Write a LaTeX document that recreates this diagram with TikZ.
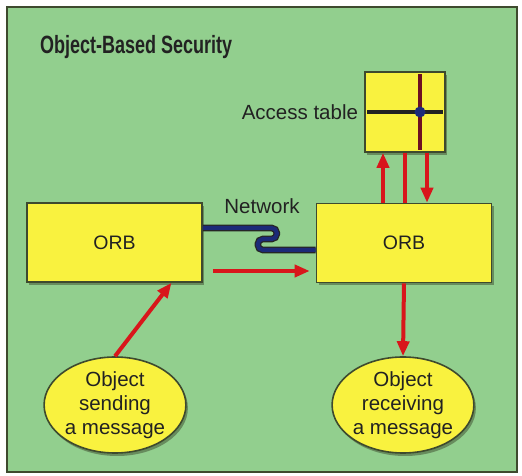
\documentclass[tikz,border=0pt]{standalone}
\usepackage{fontspec}
\setmainfont{Liberation Sans}
\usetikzlibrary{arrows.meta,positioning,shapes.geometric,shadows}
\definecolor{Meadow}{HTML}{92CF8E}
\definecolor{Lemon}{HTML}{F9F23F}
\definecolor{Signal}{HTML}{D8161B}
\definecolor{Cable}{HTML}{1C2A78}
\definecolor{Ink}{HTML}{222222}
\definecolor{Rim}{HTML}{3E4A2E}
\definecolor{Maroon}{HTML}{6E0F22}
\tikzset{
    % yellow boxes, thin dark rim, soft shadow
    orbbox/.style={
        rectangle,
        draw=Rim,
        fill=Lemon,
        line width=1.6pt,
        minimum width=175pt,
        minimum height=79pt,
        align=center,
        text=Ink,
        font=\fontsize{19.5}{23}\selectfont,
        drop shadow={shadow xshift=2pt, shadow yshift=-3pt, fill=Rim, opacity=0.5}
    },
    tablebox/.style={
        orbbox,
        minimum width=80pt,
        minimum height=80pt
    },
    objellipse/.style={
        ellipse,
        draw=Rim,
        fill=Lemon,
        line width=1.6pt,
        inner sep=0pt,
        minimum width=140pt,
        minimum height=96pt,
        align=center,
        text=Ink,
        font=\fontsize{20.5}{24}\selectfont,
        drop shadow={shadow xshift=2pt, shadow yshift=-3pt, fill=Rim, opacity=0.5}
    },
    labeltext/.style={
        text=Ink,
        inner sep=2pt,
        font=\fontsize{20.5}{24}\selectfont
    },
    titletext/.style={
        text=Ink,
        inner sep=0pt,
        font=\fontsize{25}{28}\selectfont\bfseries
    },
    msgarrow/.style={
        -{Triangle[length=15pt,width=12pt]},
        draw=Signal,
        line width=4pt
    },
    feedline/.style={
        draw=Signal,
        line width=4pt
    },
    netcable/.style={
        draw=black!85,
        line width=1.3pt,
        double=Cable,
        double distance=4pt,
        rounded corners=5pt
    },
    gridrule/.style={
        line width=3.5pt
    }
}
\begin{document}
\begin{tikzpicture}[x=1pt,y=1pt]
    \useasboundingbox (0,0) rectangle (522,476);
    \draw[fill=Meadow, draw=Rim, line width=1.8pt] (7,4) rectangle (517,469);

    \node[titletext, anchor=base west] (title) at (40,422) {\scalebox{0.72}[1]{Object-Based Security}};

    \node[orbbox] (orbsend) at (114.5,233.5) {ORB};
    \node[orbbox] (orbrecv) at (404,233) {ORB};
    \node[tablebox] (acctable) at (405,364) {};
    \node[labeltext, left=4pt of acctable] (tablelabel) {Access table};
    \node[objellipse] (sender) at (115,71) {Object\\sending\\a message};
    \node[objellipse] (receiver) at (403,71) {Object\\receiving\\a message};
    \node[labeltext] (netlabel) at (262,270) {Network};

    % cross inside the access table
    \coordinate (cross) at ([xshift=15pt]acctable.center);
    \draw[gridrule, Ink] ([xshift=3pt]acctable.west) -- ([xshift=-3pt]acctable.east);
    \draw[gridrule, Maroon] ([yshift=-3pt]acctable.north -| cross) -- ([yshift=3pt]acctable.south -| cross);
    \fill[Cable] (cross) circle (5.5pt);

    % network link
    \coordinate (cableA) at ([yshift=14.5pt]orbsend.east);
    \coordinate (cableB) at ([yshift=-7pt]orbrecv.west);
    \draw[netcable] (cableA) -- ++(74,0) -- ++(0,-11) -- ++(-19,0) -- ++(0,-11) -- (cableB);

    % message flow
    \coordinate (msgtail) at ([xshift=10pt,yshift=-28.5pt]orbsend.east);
    \draw[msgarrow] (sender.north) -- ([xshift=57pt]orbsend.south);
    \draw[msgarrow] (msgtail) -- ([xshift=-6pt]orbrecv.west |- msgtail);
    \draw[msgarrow] (orbrecv.south) -- (receiver.north);
    \draw[msgarrow] ([xshift=-22pt]acctable.south |- orbrecv.north) -- ([xshift=-22pt]acctable.south);
    \draw[feedline] (acctable.south |- orbrecv.north) -- (acctable.south);
    \draw[msgarrow] ([xshift=22pt]acctable.south) -- ([xshift=22pt]acctable.south |- orbrecv.north);
\end{tikzpicture}
\end{document}
